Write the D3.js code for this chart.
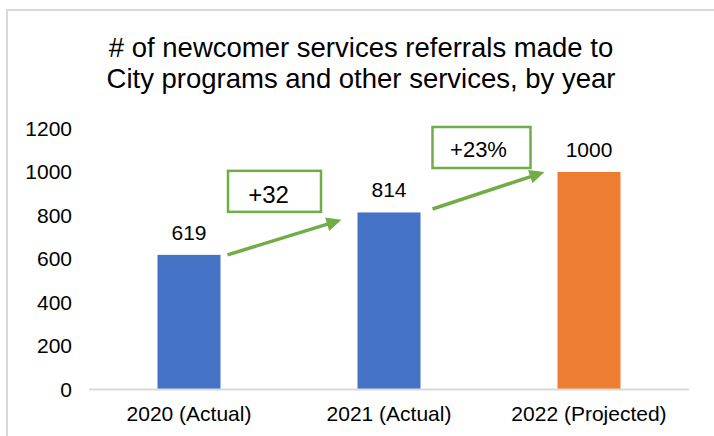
<!DOCTYPE html>
<html>
<head>
<meta charset="utf-8">
<script src="https://cdn.jsdelivr.net/npm/d3@7"></script>
<style>
  html, body { margin: 0; padding: 0; background: #fff; }
  svg { display: block; font-family: "Liberation Sans", Arial, sans-serif; }
</style>
</head>
<body>
<script>
// chart data
const categories = ["2020 (Actual)", "2021 (Actual)", "2022 (Projected)"]
const values = [619, 814, 1000]
const barColors = ["#4472C4", "#4472C4", "#ED7D31"]
const yTicks = [0, 200, 400, 600, 800, 1000, 1200]
const titleLines = ["# of newcomer services referrals made to", "City programs and other services, by year"]

// annotations: change boxes + arrows between bars (values in data units)
const changeLabels = ["+32", "+23%"]
const arrowStart = [619, 830]
const arrowEnd = [780, 1000]

const width = 714
const height = 436
const margin = {top: 128.5, left: 89, bottom: 46.5, right: 25}
const green = "#70AD47"
const gray = "#d9d9d9"

const svg = d3.select("body").append("svg")
    .attr("width", width)
    .attr("height", height)

// chart frame
svg.append("rect")
    .attr("x", 7).attr("y", 10)
    .attr("width", width + 20).attr("height", height + 20)
    .attr("fill", "none")
    .attr("stroke", gray)
    .attr("stroke-width", 2)

const title = svg.append("text")
    .attr("text-anchor", "middle")
    .style("font-size", "27.5px")
    .attr("fill", "#000")
title.selectAll("tspan")
    .data(titleLines)
    .enter()
    .append("tspan")
    .attr("x", 361)
    .attr("y", (d, i) => 57 + i * 31)
    .text(d => d)

const x = d3.scaleBand()
    .domain(categories)
    .range([margin.left, width - margin.right])
    .paddingInner(0.685)
    .paddingOuter(0.3425)

const y = d3.scaleLinear()
    .domain([0, 1200])
    .range([height - margin.bottom, margin.top])

// y tick labels (no axis line)
svg.append("g")
    .selectAll("text")
    .data(yTicks)
    .enter()
    .append("text")
    .attr("x", 72)
    .attr("y", d => y(d))
    .attr("dy", "0.35em")
    .attr("text-anchor", "end")
    .style("font-size", "21px")
    .text(d => d)

// bars
svg.append("g")
    .selectAll("rect")
    .data(values)
    .enter()
    .append("rect")
    .attr("x", (d, i) => x(categories[i]))
    .attr("y", d => y(d))
    .attr("width", x.bandwidth())
    .attr("height", d => y(0) - y(d))
    .attr("fill", (d, i) => barColors[i])

// baseline
svg.append("line")
    .attr("x1", margin.left).attr("x2", width - margin.right)
    .attr("y1", y(0)).attr("y2", y(0))
    .attr("stroke", gray)
    .attr("stroke-width", 2)

// category labels
svg.append("g")
    .selectAll("text")
    .data(categories)
    .enter()
    .append("text")
    .attr("x", d => x(d) + x.bandwidth() / 2)
    .attr("y", 421)
    .attr("text-anchor", "middle")
    .style("font-size", "21px")
    .text(d => d)

// value labels
svg.append("g")
    .selectAll("text")
    .data(values)
    .enter()
    .append("text")
    .attr("x", (d, i) => x(categories[i]) + x.bandwidth() / 2)
    .attr("y", d => y(d) - 15)
    .attr("text-anchor", "middle")
    .style("font-size", "21px")
    .text(d => d)

// arrows
const arrows = changeLabels.map((lab, i) => {
    const x1 = x(categories[i]) + x.bandwidth() + (i === 0 ? 7 : 12)
    const x2 = x(categories[i + 1]) - (i === 0 ? 16 : 13)
    return {lab, x1, y1: y(arrowStart[i]), x2, y2: y(arrowEnd[i])}
})

const headLen = 15
const headHalf = 7
arrows.forEach(a => {
    const ang = Math.atan2(a.y2 - a.y1, a.x2 - a.x1)
    const bx = a.x2 - headLen * Math.cos(ang)
    const by = a.y2 - headLen * Math.sin(ang)
    svg.append("line")
        .attr("x1", a.x1).attr("y1", a.y1)
        .attr("x2", bx + 2 * Math.cos(ang)).attr("y2", by + 2 * Math.sin(ang))
        .attr("stroke", green)
        .attr("stroke-width", 3.5)
    const px = -Math.sin(ang), py = Math.cos(ang)
    svg.append("path")
        .attr("d", d3.line()([
            [a.x2, a.y2],
            [bx + px * headHalf, by + py * headHalf],
            [bx - px * headHalf, by - py * headHalf]
        ]) + "Z")
        .attr("fill", green)
})

// change boxes
const boxW = [93, 98]
const boxH = 41
const boxes = svg.append("g")
    .selectAll("g")
    .data(arrows)
    .enter()
    .append("g")
    .attr("transform", (d, i) => {
        const cx = (d.x1 + d.x2) / 2 - (i === 0 ? 10 : 7)
        const top = d.y2 - (i === 0 ? 49 : 45)
        return "translate(" + (cx - boxW[i] / 2) + "," + top + ")"
    })

boxes.append("rect")
    .attr("width", (d, i) => boxW[i])
    .attr("height", boxH)
    .attr("fill", "#fff")
    .attr("stroke", green)
    .attr("stroke-width", 2.5)

boxes.append("text")
    .attr("x", (d, i) => boxW[i] / 2 - 6 + (i === 1 ? 3 : 0))
    .attr("y", (d, i) => i === 0 ? 32 : 30)
    .attr("text-anchor", "middle")
    .style("font-size", (d, i) => i === 0 ? "24px" : "22px")
    .text(d => d.lab)
</script>
</body>
</html>
